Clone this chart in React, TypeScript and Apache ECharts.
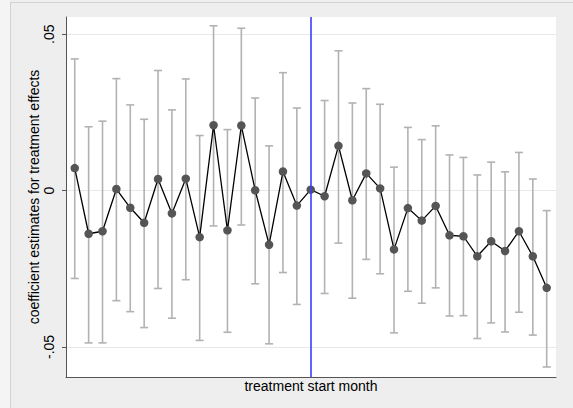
import React, { useEffect, useRef } from "react";
import * as echarts from "echarts";

const months = [-17, -16, -15, -14, -13, -12, -11, -10, -9, -8, -7, -6, -5, -4, -3, -2, -1, 0, 1, 2, 3, 4, 5, 6, 7, 8, 9, 10, 11, 12, 13, 14, 15, 16, 17];
const coef = [0.0072, -0.0138, -0.013, 0.0005, -0.0055, -0.0103, 0.0037, -0.0073, 0.0038, -0.0149, 0.0209, -0.0127, 0.0208, 0.0001, -0.0173, 0.0061, -0.0048, 0.0003, -0.0018, 0.0143, -0.0031, 0.0055, 0.0007, -0.0188, -0.0056, -0.0096, -0.0049, -0.0143, -0.0146, -0.021, -0.0162, -0.0193, -0.013, -0.021, -0.0311];
const upper = [0.0421, 0.0204, 0.0222, 0.0358, 0.0274, 0.0228, 0.0384, 0.0258, 0.0357, 0.0176, 0.0527, 0.0195, 0.0519, 0.0296, 0.0143, 0.0377, 0.0264, null, 0.0288, 0.0447, 0.028, 0.0326, 0.0276, 0.0075, 0.0202, 0.0163, 0.0207, 0.0114, 0.0106, 0.005, 0.0091, 0.006, 0.0122, 0.0037, -0.0064];
const lower = [-0.0281, -0.0487, -0.0487, -0.0352, -0.0387, -0.0438, -0.0313, -0.0408, -0.0285, -0.0479, -0.0113, -0.0453, -0.011, -0.0298, -0.049, -0.0262, -0.0364, null, -0.0329, -0.0168, -0.0344, -0.022, -0.0266, -0.0455, -0.0322, -0.036, -0.0311, -0.0401, -0.04, -0.0473, -0.0423, -0.0452, -0.0389, -0.0462, -0.0564];
const yTicks = [-0.05, 0, 0.05];
const yTickLabels = ["-.05", "0", ".05"];
const treatmentStart = 0;

export default function App() {
  const ref = useRef<HTMLDivElement>(null);
  useEffect(() => {
    if (!ref.current) return;
    const chart = echarts.init(ref.current, null, { renderer: "svg" });
    const ciData = months
      .map((m, i) => [m, lower[i], upper[i]])
      .filter((d) => d[1] !== null && d[2] !== null);
    const option: any = {
      animation: false,
      backgroundColor: "#eeeeee",
      textStyle: { fontFamily: "Liberation Sans, Arial, sans-serif" },
      graphic: [
        { type: "rect", shape: { x: 0, y: 0, width: 10, height: 408 }, style: { fill: "#f4f4f4" }, z: -10, silent: true },
        { type: "line", shape: { x1: 10.5, y1: 2.5, x2: 10.5, y2: 408 }, style: { stroke: "#d2d2d2", lineWidth: 1 }, z: -9, silent: true },
        { type: "line", shape: { x1: 10.5, y1: 2.5, x2: 573, y2: 2.5 }, style: { stroke: "#d2d2d2", lineWidth: 1 }, z: -9, silent: true },
      ],
      grid: {
        left: 66,
        right: 17,
        top: 17,
        bottom: 31,
        show: true,
        backgroundColor: "#ffffff",
        borderWidth: 0,
      },
      xAxis: {
        type: "value",
        min: -17.63,
        max: 17.67,
        name: "treatment start month",
        nameLocation: "middle",
        nameGap: 2,
        nameMoveOverlap: false,
        nameTextStyle: { color: "#000", fontSize: 14, fontFamily: "Liberation Sans, Arial, sans-serif", verticalAlign: "top" },
        axisLine: { show: true, onZero: false, lineStyle: { color: "#555555", width: 1 } },
        axisTick: { show: false },
        axisLabel: { show: false },
        splitLine: { show: false },
      },
      yAxis: {
        type: "value",
        min: -0.0596,
        max: 0.0555,
        name: "coefficient estimates for treatment effects",
        nameLocation: "middle",
        nameGap: 25,
        nameMoveOverlap: false,
        nameTextStyle: { color: "#000", fontSize: 14, fontFamily: "Liberation Sans, Arial, sans-serif" },
        axisLine: { show: true, onZero: false, lineStyle: { color: "#555555", width: 1 } },
        axisTick: { show: true, length: 4, customValues: yTicks, lineStyle: { color: "#555555" } },
        axisLabel: {
          show: true,
          customValues: yTicks,
          rotate: 90,
          margin: 10,
          fontSize: 14,
          color: "#000",
          formatter: (v: number) => {
            const idx = yTicks.findIndex((t) => Math.abs(t - v) < 1e-9);
            return idx >= 0 ? yTickLabels[idx] : "";
          },
        },
        splitLine: { show: false },
      },
      series: [
        {
          type: "custom",
          z: 1,
          silent: true,
          data: ciData,
          renderItem: (params: any, api: any) => {
            const x = api.value(0);
            const lo = api.coord([x, api.value(1)]);
            const hi = api.coord([x, api.value(2)]);
            const cap = 4;
            const st = { stroke: "#b2b2b2", lineWidth: 1.6 };
            return {
              type: "group",
              children: [
                { type: "line", shape: { x1: lo[0], y1: lo[1], x2: hi[0], y2: hi[1] }, style: st },
                { type: "line", shape: { x1: lo[0] - cap, y1: lo[1], x2: lo[0] + cap, y2: lo[1] }, style: st },
                { type: "line", shape: { x1: hi[0] - cap, y1: hi[1], x2: hi[0] + cap, y2: hi[1] }, style: st },
              ],
            };
          },
          markLine: {
            silent: true,
            symbol: "none",
            label: { show: false },
            lineStyle: { color: "#e8e8e8", width: 1, type: "solid" },
            data: yTicks.map((t) => ({ yAxis: t })),
            z: 0,
          },
        },
        {
          type: "line",
          z: 3,
          silent: true,
          data: months.map((m, i) => [m, coef[i]]),
          symbol: "circle",
          symbolSize: 8.5,
          itemStyle: { color: "#555555" },
          lineStyle: { color: "#000000", width: 1.3 },
          markLine: {
            silent: true,
            symbol: "none",
            label: { show: false },
            lineStyle: { color: "#3c3cff", width: 1.6, type: "solid" },
            data: [{ xAxis: treatmentStart }],
          },
        },
      ],
    };
    chart.setOption(option);
    return () => chart.dispose();
  }, []);
  return (
    <div
      ref={ref}
      style={{ position: "fixed", left: 0, top: 0, width: 573, height: 408 }}
    />
  );
}
